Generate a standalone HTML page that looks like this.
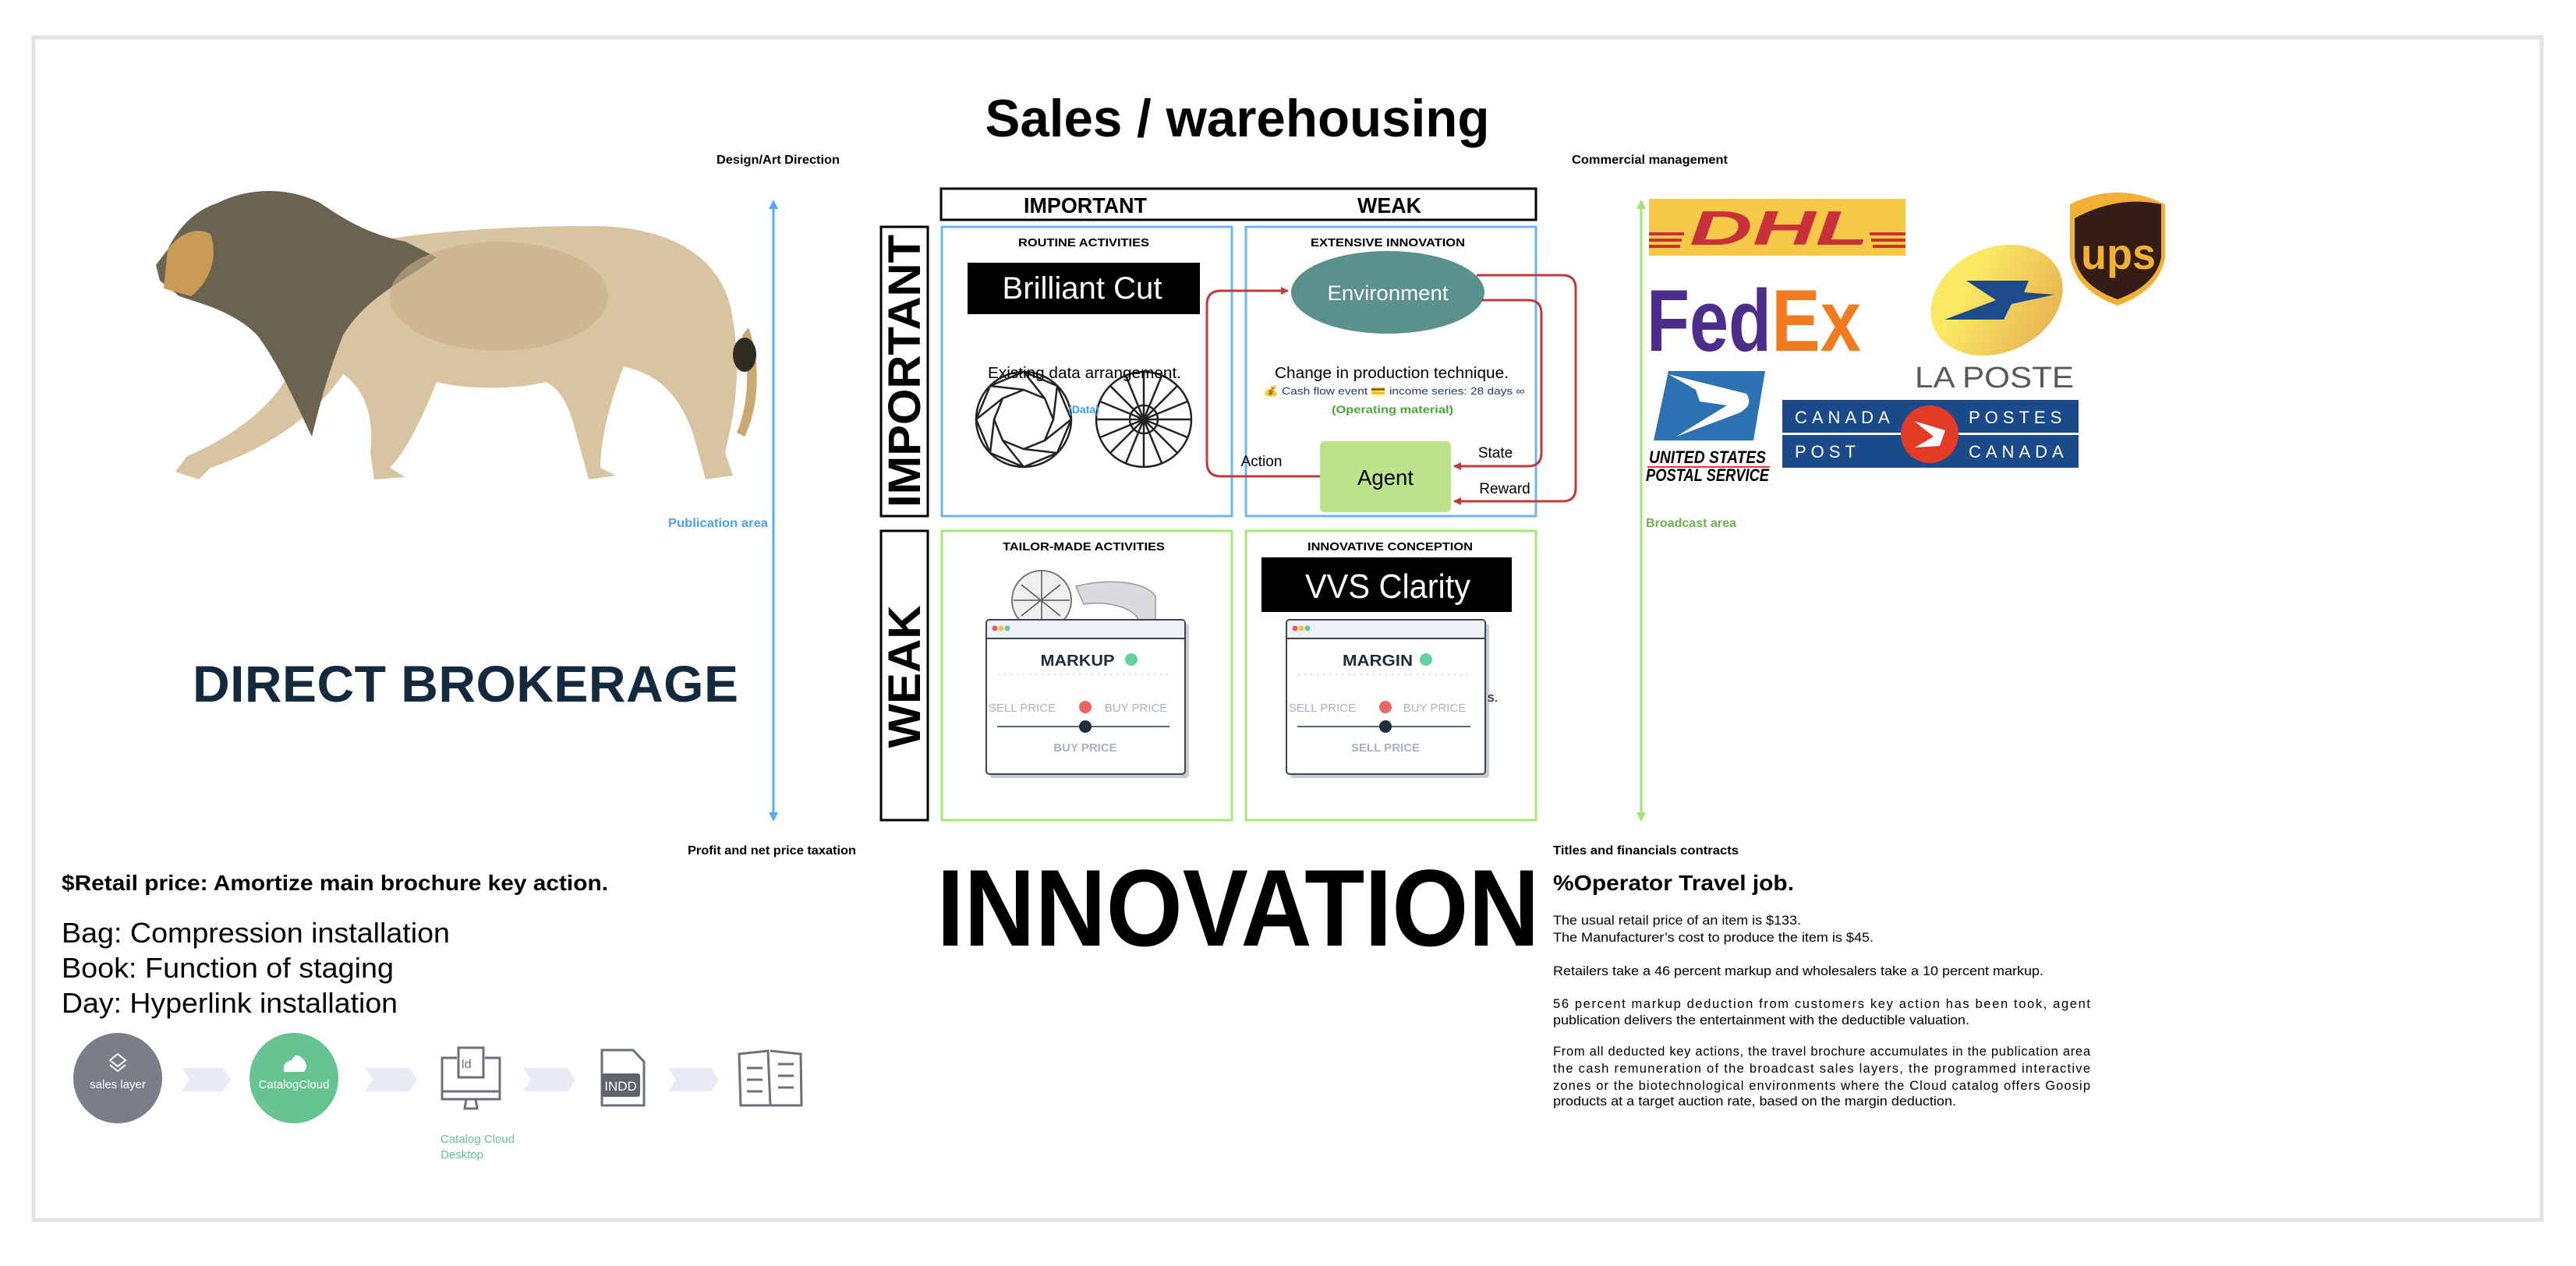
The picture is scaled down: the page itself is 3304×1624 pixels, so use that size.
<!DOCTYPE html>
<html><head><meta charset="utf-8"><style>
html,body{margin:0;padding:0;background:#fff;}
svg{display:block;}
text{font-family:"Liberation Sans",Arial,sans-serif;}
</style></head><body>
<svg width="3304" height="1624" viewBox="0 0 3304 1624" xmlns="http://www.w3.org/2000/svg">
<defs>
<marker id="ar" markerWidth="10" markerHeight="10" refX="9" refY="5" orient="auto" markerUnits="userSpaceOnUse"><path d="M0,0 L10,5 L0,10 Z" fill="#c0393b"/></marker>
<linearGradient id="lp" x1="0" y1="0" x2="1" y2="1"><stop offset="0.3" stop-color="#fbe964"/><stop offset="1" stop-color="#e3a94e"/></linearGradient>
</defs>
<rect x="43" y="48" width="3217" height="1517" fill="#fff" stroke="#e2e2e2" stroke-width="5"/>

<text x="1587" y="175" font-size="68" font-weight="bold" text-anchor="middle" textLength="647" lengthAdjust="spacingAndGlyphs">Sales / warehousing</text>

<text x="919" y="210" font-size="16" font-weight="bold" textLength="158" lengthAdjust="spacingAndGlyphs">Design/Art Direction</text>
<text x="2016" y="210" font-size="16" font-weight="bold" textLength="200" lengthAdjust="spacingAndGlyphs">Commercial management</text>
<text x="882" y="1096" font-size="16" font-weight="bold" textLength="216" lengthAdjust="spacingAndGlyphs">Profit and net price taxation</text>
<text x="1992" y="1096" font-size="16" font-weight="bold" textLength="238" lengthAdjust="spacingAndGlyphs">Titles and financials contracts</text>

<line x1="992" y1="266" x2="992" y2="1044" stroke="#5aa9f5" stroke-width="3"/>
<path d="M986,268 L992,256 L998,268 Z" fill="#5aa9f5"/>
<path d="M986,1042 L992,1054 L998,1042 Z" fill="#5aa9f5"/>
<text x="985" y="676" font-size="16" font-weight="bold" fill="#4a9ef5" text-anchor="end" textLength="128" lengthAdjust="spacingAndGlyphs">Publication area</text>
<line x1="2105" y1="266" x2="2105" y2="1044" stroke="#9de66f" stroke-width="3"/>
<path d="M2099,268 L2105,256 L2111,268 Z" fill="#9de66f"/>
<path d="M2099,1042 L2105,1054 L2111,1042 Z" fill="#9de66f"/>
<text x="2111" y="676" font-size="16" font-weight="bold" fill="#6ab04c" textLength="116" lengthAdjust="spacingAndGlyphs">Broadcast area</text>

<g>
<path d="M330,360 C420,300 620,290 760,290 C860,290 930,330 940,410 C950,470 945,520 930,580 L940,610 L905,615 L890,560 C870,500 840,480 800,470 C780,520 770,570 770,600 L790,610 L755,615 L740,560 C730,520 720,500 700,490 C660,500 600,500 560,490 C540,540 520,580 500,600 L520,612 L480,615 L475,580 C480,540 470,500 440,480 C400,540 330,580 270,600 L255,615 L225,605 L240,585 C300,560 350,520 370,480 C340,450 320,420 330,360 Z" fill="#d8c4a0"/>
<path d="M280,260 C320,240 370,240 410,260 C440,280 470,300 520,310 L560,330 C520,360 470,380 440,430 C420,480 410,520 400,560 C380,520 360,470 330,430 C300,400 260,390 230,380 L205,360 L200,340 L215,320 C230,290 250,270 280,260 Z" fill="#6b6250"/>
<path d="M215,320 C230,300 250,290 270,300 C280,330 270,360 245,380 L210,370 Z" fill="#c99a55"/>
<path d="M960,420 C975,460 975,520 955,560 L945,555 C960,520 962,470 952,430 Z" fill="#c9a874"/>
<ellipse cx="955" cy="455" rx="15" ry="22" fill="#2e2a24"/>
<ellipse cx="640" cy="380" rx="140" ry="70" fill="#c8b08a" opacity="0.6"/>
</g>
<text x="597" y="900" font-size="66" font-weight="bold" fill="#13293d" text-anchor="middle" textLength="700" lengthAdjust="spacing">DIRECT BROKERAGE</text>

<rect x="1207" y="242" width="763" height="40" fill="#fff" stroke="#000" stroke-width="3"/>
<text x="1392" y="273" font-size="28" font-weight="bold" text-anchor="middle" textLength="158" lengthAdjust="spacingAndGlyphs">IMPORTANT</text>
<text x="1782" y="273" font-size="28" font-weight="bold" text-anchor="middle" textLength="82" lengthAdjust="spacingAndGlyphs">WEAK</text>

<rect x="1130" y="291" width="60" height="371" fill="#fff" stroke="#000" stroke-width="3"/>
<text transform="translate(1180,476) rotate(-90)" font-size="58" font-weight="bold" text-anchor="middle" textLength="350" lengthAdjust="spacingAndGlyphs">IMPORTANT</text>
<rect x="1130" y="681" width="60" height="371" fill="#fff" stroke="#000" stroke-width="3"/>
<text transform="translate(1180,868) rotate(-90)" font-size="58" font-weight="bold" text-anchor="middle" textLength="183" lengthAdjust="spacingAndGlyphs">WEAK</text>

<rect x="1208" y="291" width="372" height="371" fill="#fff" stroke="#6cb6f6" stroke-width="3"/>
<rect x="1598" y="291" width="372" height="371" fill="#fff" stroke="#6cb6f6" stroke-width="3"/>
<rect x="1208" y="681" width="372" height="371" fill="#fff" stroke="#a3ea76" stroke-width="3"/>
<rect x="1598" y="681" width="372" height="371" fill="#fff" stroke="#a3ea76" stroke-width="3"/>

<text x="1390" y="316" font-size="15" font-weight="bold" text-anchor="middle" textLength="168" lengthAdjust="spacingAndGlyphs">ROUTINE ACTIVITIES</text>
<text x="1780" y="316" font-size="15" font-weight="bold" text-anchor="middle" textLength="198" lengthAdjust="spacingAndGlyphs">EXTENSIVE INNOVATION</text>
<text x="1390" y="706" font-size="15" font-weight="bold" text-anchor="middle" textLength="208" lengthAdjust="spacingAndGlyphs">TAILOR-MADE ACTIVITIES</text>
<text x="1783" y="706" font-size="15" font-weight="bold" text-anchor="middle" textLength="212" lengthAdjust="spacingAndGlyphs">INNOVATIVE CONCEPTION</text>

<rect x="1241" y="337" width="298" height="66" fill="#000"/>
<text x="1388" y="383" font-size="40" fill="#fff" text-anchor="middle" textLength="205" lengthAdjust="spacingAndGlyphs">Brilliant Cut</text>
<g fill="none" stroke="#222" stroke-width="2.5">
<circle cx="1313" cy="538" r="61"/>
<polygon points="1313,477 1356,495 1374,538 1356,581 1313,599 1270,581 1252,538 1270,495"/>
<polygon points="1313,500 1340,511 1351,538 1340,565 1313,576 1286,565 1275,538 1286,511"/>
<path d="M1313,477 L1340,511 M1356,495 L1351,538 M1374,538 L1340,565 M1356,581 L1313,576 M1313,599 L1286,565 M1270,581 L1275,538 M1252,538 L1286,511 M1270,495 L1313,500"/>
<circle cx="1467" cy="538" r="61"/>
<circle cx="1467" cy="538" r="18"/>
<path d="M1467,477 L1467,599 M1406,538 L1528,538 M1424,495 L1510,581 M1510,495 L1424,581 M1444,482 L1490,594 M1490,482 L1444,594 M1411,515 L1523,561 M1411,561 L1523,515"/>
</g>
<text x="1391" y="485" font-size="20" text-anchor="middle" textLength="248" lengthAdjust="spacingAndGlyphs">Existing data arrangement.</text>
<text x="1390" y="530" font-size="14" font-weight="bold" fill="#3b9cf0" text-anchor="middle">(Data)</text>

<ellipse cx="1780" cy="375" rx="124" ry="53" fill="#5a918d"/>
<text x="1780" y="385" font-size="27" fill="#fff" text-anchor="middle" textLength="155" lengthAdjust="spacingAndGlyphs">Environment</text>
<text x="1785" y="485" font-size="20" text-anchor="middle" textLength="300" lengthAdjust="spacingAndGlyphs">Change in production technique.</text>
<text x="1788" y="506" font-size="13" fill="#22336b" text-anchor="middle" textLength="335" lengthAdjust="spacingAndGlyphs">💰 Cash flow event 💳 income series: 28 days ∞</text>
<text x="1786" y="530" font-size="14" font-weight="bold" fill="#4aa63a" text-anchor="middle" textLength="156" lengthAdjust="spacingAndGlyphs">(Operating material)</text>
<rect x="1693" y="566" width="168" height="91" rx="6" fill="#bde38a"/>
<text x="1777" y="622" font-size="28" text-anchor="middle" textLength="72" lengthAdjust="spacingAndGlyphs">Agent</text>
<g fill="none" stroke="#c0393b" stroke-width="3">
<path d="M1693,611 L1566,611 Q1548,611 1548,593 L1548,391 Q1548,373 1566,373 L1652,373" marker-end="url(#ar)"/>
<path d="M1900,385 L1960,385 Q1977,385 1977,402 L1977,581 Q1977,598 1960,598 L1865,598" marker-end="url(#ar)"/>
<path d="M1894,353 L2004,353 Q2021,353 2021,370 L2021,626 Q2021,643 2004,643 L1865,643" marker-end="url(#ar)"/>
</g>
<text x="1618" y="598" font-size="19" text-anchor="middle">Action</text>
<text x="1918" y="587" font-size="19" text-anchor="middle">State</text>
<text x="1930" y="633" font-size="19" text-anchor="middle">Reward</text>

<g>
<path d="M1380,752 C1420,742 1470,745 1482,765 L1482,795 L1460,795 C1455,780 1420,770 1390,775 Z" fill="#d9dbde" stroke="#999" stroke-width="1.5"/>
<circle cx="1336" cy="770" r="38" fill="#eef0f2" stroke="#777" stroke-width="2"/>
<path d="M1310,750 L1360,790 M1360,750 L1310,790 M1336,732 L1336,808 M1300,770 L1372,770" stroke="#555" stroke-width="1.5"/>
</g>

<rect x="1618" y="715" width="321" height="70" fill="#000"/>
<text x="1780" y="767" font-size="44" fill="#fff" text-anchor="middle" textLength="212" lengthAdjust="spacingAndGlyphs">VVS Clarity</text>

<g>
<rect x="1270" y="800" width="255" height="198" rx="4" fill="#c8ccd2"/>
<rect x="1265" y="795" width="255" height="198" rx="4" fill="#fff" stroke="#3a4550" stroke-width="2"/>
<path d="M1266,819 L1266,799 Q1266,796 1269,796 L1516,796 Q1519,796 1519,799 L1519,819 Z" fill="#eef2f5"/>
<line x1="1265" y1="819" x2="1520" y2="819" stroke="#3a4550" stroke-width="2"/>
<circle cx="1276" cy="806" r="3.5" fill="#ea5b5b"/><circle cx="1284" cy="806" r="3.5" fill="#f5c13b"/><circle cx="1292" cy="806" r="3.5" fill="#5fcf9a"/>
<text x="1382" y="854" font-size="20" font-weight="bold" fill="#1e2d3b" text-anchor="middle" textLength="95" lengthAdjust="spacingAndGlyphs">MARKUP</text>
<circle cx="1451" cy="846" r="8" fill="#66d1a0"/>
<line x1="1280" y1="865" x2="1500" y2="865" stroke="#ccd" stroke-width="1.5" stroke-dasharray="2,6"/>
<text x="1311" y="913" font-size="15" fill="#a8b3c2" text-anchor="middle">SELL PRICE</text>
<circle cx="1392" cy="907" r="8" fill="#ec6464"/>
<text x="1457" y="913" font-size="15" fill="#a8b3c2" text-anchor="middle">BUY PRICE</text>
<line x1="1279" y1="932" x2="1500" y2="932" stroke="#5a6570" stroke-width="2"/>
<circle cx="1392" cy="932" r="8" fill="#1e2d3b"/>
<text x="1392" y="964" font-size="15" font-weight="bold" fill="#a8b3c2" text-anchor="middle">BUY PRICE</text>
</g>
<g>
<rect x="1655" y="800" width="255" height="198" rx="4" fill="#c8ccd2"/>
<rect x="1650" y="795" width="255" height="198" rx="4" fill="#fff" stroke="#3a4550" stroke-width="2"/>
<path d="M1651,819 L1651,799 Q1651,796 1654,796 L1901,796 Q1904,796 1904,799 L1904,819 Z" fill="#eef2f5"/>
<line x1="1650" y1="819" x2="1905" y2="819" stroke="#3a4550" stroke-width="2"/>
<circle cx="1661" cy="806" r="3.5" fill="#ea5b5b"/><circle cx="1669" cy="806" r="3.5" fill="#f5c13b"/><circle cx="1677" cy="806" r="3.5" fill="#5fcf9a"/>
<text x="1767" y="854" font-size="20" font-weight="bold" fill="#1e2d3b" text-anchor="middle" textLength="90" lengthAdjust="spacingAndGlyphs">MARGIN</text>
<circle cx="1829" cy="846" r="8" fill="#66d1a0"/>
<line x1="1665" y1="865" x2="1885" y2="865" stroke="#ccd" stroke-width="1.5" stroke-dasharray="2,6"/>
<text x="1696" y="913" font-size="15" fill="#a8b3c2" text-anchor="middle">SELL PRICE</text>
<circle cx="1777" cy="907" r="8" fill="#ec6464"/>
<text x="1840" y="913" font-size="15" fill="#a8b3c2" text-anchor="middle">BUY PRICE</text>
<line x1="1664" y1="932" x2="1886" y2="932" stroke="#5a6570" stroke-width="2"/>
<circle cx="1777" cy="932" r="8" fill="#1e2d3b"/>
<text x="1777" y="964" font-size="15" font-weight="bold" fill="#a8b3c2" text-anchor="middle">SELL PRICE</text>
</g>
<text x="1908" y="900" font-size="17">s.</text>

<text x="1588" y="1213" font-size="140" font-weight="bold" text-anchor="middle" textLength="773" lengthAdjust="spacingAndGlyphs">INNOVATION</text>

<text x="79" y="1142" font-size="28" font-weight="bold" textLength="701" lengthAdjust="spacingAndGlyphs">$Retail price: Amortize main brochure key action.</text>
<text x="79" y="1209" font-size="36" textLength="498" lengthAdjust="spacingAndGlyphs">Bag: Compression installation</text>
<text x="79" y="1254" font-size="36" textLength="426" lengthAdjust="spacingAndGlyphs">Book: Function of staging</text>
<text x="79" y="1299" font-size="36" textLength="431" lengthAdjust="spacingAndGlyphs">Day: Hyperlink installation</text>

<ellipse cx="151" cy="1383" rx="57" ry="58" fill="#7b7e88"/>
<path d="M141,1360 L151,1352 L161,1360 L151,1368 Z M141,1366 L151,1374 L161,1366" fill="none" stroke="#fff" stroke-width="2"/>
<text x="151" y="1396" font-size="15" fill="#fff" text-anchor="middle">sales layer</text>
<ellipse cx="377" cy="1383" rx="57" ry="58" fill="#66c392"/>
<path d="M364,1375 Q362,1362 374,1360 Q380,1348 390,1360 Q396,1368 390,1375 Z" fill="#fff"/>
<text x="377" y="1396" font-size="15" fill="#fff" text-anchor="middle">CatalogCloud</text>
<g fill="#e6ebf5">
<path d="M233,1370 L286,1370 L296,1385 L286,1400 L233,1400 L243,1385 Z"/>
<path d="M468,1370 L525,1370 L535,1385 L525,1400 L468,1400 L478,1385 Z"/>
<path d="M671,1370 L728,1370 L738,1385 L728,1400 L671,1400 L681,1385 Z"/>
<path d="M857,1370 L912,1370 L922,1385 L912,1400 L857,1400 L867,1385 Z"/>
</g>
<g fill="none" stroke="#6b7079" stroke-width="3">
<path d="M586,1357 L567,1357 L567,1410 L641,1410 L641,1357 L622,1357"/>
<line x1="567" y1="1400" x2="641" y2="1400"/>
<rect x="588" y="1344" width="32" height="38" fill="#fff"/>
<path d="M598,1410 L596,1422 L612,1422 L610,1410"/>
<path d="M772,1347 L812,1347 L826,1362 L826,1418 L772,1418 Z"/>
<path d="M948,1352 L985,1348 L988,1418 L950,1418 Z M988,1348 L1027,1352 L1028,1418 L988,1418"/>
<path d="M958,1370 L978,1370 M958,1385 L978,1385 M958,1400 L978,1400 M998,1365 L1018,1365 M998,1380 L1018,1380 M998,1395 L1018,1395"/>
</g>
<rect x="771" y="1377" width="50" height="30" rx="3" fill="#5e636c"/>
<text x="796" y="1399" font-size="17" fill="#fff" text-anchor="middle">INDD</text>
<text x="598" y="1370" font-size="16" fill="#6b7079" text-anchor="middle">Id</text>
<text x="565" y="1466" font-size="15" fill="#66c392">Catalog Cloud</text>
<text x="565" y="1486" font-size="15" fill="#66c392">Desktop</text>

<text x="1992" y="1142" font-size="28" font-weight="bold" textLength="309" lengthAdjust="spacingAndGlyphs">%Operator Travel job.</text>
<g font-size="16.5">
<text x="1992" y="1186" textLength="318" lengthAdjust="spacingAndGlyphs">The usual retail price of an item is $133.</text>
<text x="1992" y="1208" textLength="411" lengthAdjust="spacingAndGlyphs">The Manufacturer’s cost to produce the item is $45.</text>
<text x="1992" y="1251" textLength="629" lengthAdjust="spacingAndGlyphs">Retailers take a 46 percent markup and wholesalers take a 10 percent markup.</text>
<text x="1992" y="1293" textLength="689" lengthAdjust="spacing">56 percent markup deduction from customers key action has been took, agent</text>
<text x="1992" y="1314" textLength="534" lengthAdjust="spacingAndGlyphs">publication delivers the entertainment with the deductible valuation.</text>
<text x="1992" y="1354" textLength="689" lengthAdjust="spacing">From all deducted key actions, the travel brochure accumulates in the publication area</text>
<text x="1992" y="1376" textLength="689" lengthAdjust="spacing">the cash remuneration of the broadcast sales layers, the programmed interactive</text>
<text x="1992" y="1398" textLength="689" lengthAdjust="spacing">zones or the biotechnological environments where the Cloud catalog offers Goosip</text>
<text x="1992" y="1418" textLength="517" lengthAdjust="spacingAndGlyphs">products at a target auction rate, based on the margin deduction.</text>
</g>

<rect x="2115" y="255" width="329" height="73" fill="#f7c948"/>
<g fill="#c8313a">
<rect x="2115" y="298" width="45" height="4"/><rect x="2115" y="306" width="42" height="4"/><rect x="2115" y="314" width="40" height="4"/>
<rect x="2398" y="298" width="46" height="4"/><rect x="2400" y="306" width="44" height="4"/><rect x="2402" y="314" width="42" height="4"/>
</g>
<text x="2282" y="314" font-size="62" font-weight="bold" font-style="italic" fill="#c8313a" text-anchor="middle" textLength="230" lengthAdjust="spacingAndGlyphs">DHL</text>

<text x="2112" y="450" font-size="112" font-weight="bold" fill="#4d2d8c" textLength="160" lengthAdjust="spacingAndGlyphs">Fed</text>
<text x="2272" y="450" font-size="112" font-weight="bold" fill="#f07b21" textLength="115" lengthAdjust="spacingAndGlyphs">Ex</text>

<path d="M2655,262 Q2716,232 2777,262 L2777,330 Q2770,372 2716,392 Q2662,372 2655,330 Z" fill="#f2b034"/>
<path d="M2661,280 Q2716,250 2772,262 L2772,330 Q2765,366 2716,384 Q2667,366 2661,330 Z" fill="#351c15"/>
<text x="2717" y="345" font-size="56" font-weight="bold" fill="#f2b034" text-anchor="middle" textLength="96" lengthAdjust="spacingAndGlyphs">ups</text>

<ellipse cx="2561" cy="385" rx="88" ry="67" transform="rotate(-25 2561 385)" fill="url(#lp)"/>
<path d="M2522,360 L2602,360 L2596,375 L2635,378 L2580,390 L2570,410 L2494,410 L2560,385 Z" fill="#1e4a8c"/>
<text x="2558" y="497" font-size="38" fill="#595959" text-anchor="middle" textLength="204" lengthAdjust="spacingAndGlyphs">LA POSTE</text>

<path d="M2140,476 L2264,476 L2249,565 L2121,565 Z" fill="#2c71b2"/>
<path d="M2140,480 L2240,505 Q2250,520 2230,530 L2150,560 L2215,520 L2180,515 L2175,500 Z" fill="#fff"/>
<text x="2190" y="594" font-size="22" font-weight="bold" font-style="italic" text-anchor="middle" textLength="150" lengthAdjust="spacingAndGlyphs">UNITED STATES</text>
<rect x="2113" y="598" width="157" height="2" fill="#e33"/>
<text x="2190" y="617" font-size="22" font-weight="bold" font-style="italic" text-anchor="middle" textLength="158" lengthAdjust="spacingAndGlyphs">POSTAL SERVICE</text>

<rect x="2286" y="513" width="380" height="87" fill="#1b4a8a"/>
<rect x="2286" y="555" width="380" height="3" fill="#fff"/>
<ellipse cx="2475" cy="557" rx="37" ry="37" fill="#e43b26"/>
<path d="M2455,540 L2495,552 L2488,572 L2456,574 L2480,560 Z" fill="#fff"/>
<text x="2302" y="543" font-size="22" fill="#fff" letter-spacing="6">CANADA</text>
<text x="2525" y="543" font-size="22" fill="#fff" letter-spacing="6">POSTES</text>
<text x="2302" y="587" font-size="22" fill="#fff" letter-spacing="6">POST</text>
<text x="2525" y="587" font-size="22" fill="#fff" letter-spacing="6">CANADA</text>
</svg>
</body></html>
